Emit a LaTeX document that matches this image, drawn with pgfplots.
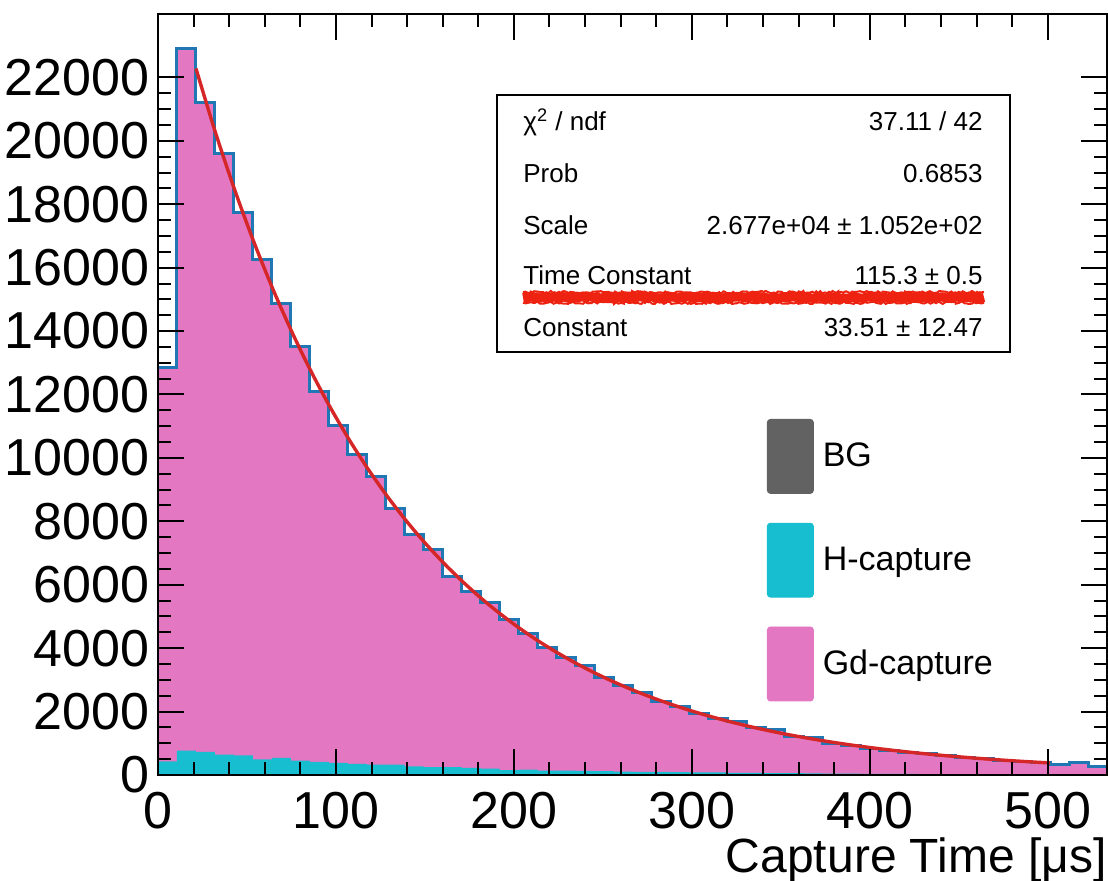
\documentclass[border=0pt]{standalone}
\usepackage{fontspec}
\setmainfont{Liberation Sans}
\usepackage{pgfplots}
\pgfplotsset{compat=1.18}
\usepackage{pgfplotstable}
\usetikzlibrary{decorations.pathmorphing}
\definecolor{gdpink}{HTML}{E377C2}
\definecolor{hcyan}{HTML}{17BECF}
\definecolor{outblue}{HTML}{1F77B4}
\definecolor{fitred}{HTML}{D62728}
\definecolor{bggray}{HTML}{626262}
\definecolor{markred}{HTML}{EE2211}

\pgfplotstableread{
x y
0 12840
10.667 22900
21.333 21210
32 19600
42.667 17730
53.333 16260
64 14860
74.667 13520
85.333 12100
96 11030
106.667 10120
117.333 9400
128 8400
138.667 7590
149.333 7110
160 6270
170.667 5800
181.333 5430
192 4900
202.667 4450
213.333 4030
224 3690
234.667 3450
245.333 3060
256 2820
266.667 2600
277.333 2310
288 2150
298.667 1940
309.333 1790
320 1690
330.667 1490
341.333 1430
352 1200
362.667 1170
373.333 1000
384 930
394.667 850
405.333 780
416 720
426.667 670
437.333 600
448 560
458.667 510
469.333 470
480 430
490.667 390
501.333 330
512 380
522.667 260
533.333 260
}\totaltable

\pgfplotstableread{
x y
0 430
10.667 770
21.333 730
32 645
42.667 615
53.333 490
64 540
74.667 455
85.333 415
96 380
106.667 350
117.333 330
128 330
138.667 275
149.333 245
160 245
170.667 225
181.333 200
192 150
202.667 170
213.333 140
224 140
234.667 130
245.333 120
256 110
266.667 100
277.333 95
288 90
298.667 85
309.333 80
320 70
330.667 65
341.333 60
352 55
362.667 50
373.333 45
384 40
394.667 38
405.333 35
416 32
426.667 30
437.333 28
448 25
458.667 22
469.333 20
480 18
490.667 16
501.333 15
512 14
522.667 12
533.333 12
}\hcaptable

\pgfplotstableread{
x y
21.333 22281
32 20315
42.667 18523
53.333 16889
64 15400
74.667 14042
85.333 12804
96 11675
106.667 10646
117.333 9709
128 8854
138.667 8074
149.333 7364
160 6716
170.667 6126
181.333 5587
192 5097
202.667 4649
213.333 4241
224 3870
234.667 3531
245.333 3222
256 2940
266.667 2683
277.333 2449
288 2236
298.667 2041
309.333 1864
320 1702
330.667 1554
341.333 1420
352 1297
362.667 1186
373.333 1084
384 991
394.667 906
405.333 829
416 759
426.667 695
437.333 636
448 583
458.667 535
469.333 490
480 450
490.667 413
501.333 380
}\fittable

\begin{document}
\begin{tikzpicture}
\useasboundingbox (-79pt,-53pt) rectangle (475pt,387.5pt);
\begin{axis}[
  at={(0,0)}, anchor=south west,
  scale only axis, width=474.5pt, height=380.5pt,
  xmin=0, xmax=533.333, ymin=0, ymax=24000,
  xtick={0,100,...,500}, ytick={0,2000,...,22000},
  scaled y ticks=false, scaled x ticks=false,
  minor x tick num=4, minor y tick num=3,
  major tick length=13pt, minor tick length=6.5pt,
  tick style={black, line width=1pt},
  axis line style={line width=1.3pt},
  axis on top,
  tick label style={font=\fontsize{26}{30}\selectfont},
  /pgf/number format/assume math mode=true,
  /pgf/number format/1000 sep={},
  xticklabel style={inner sep=0pt, yshift=-8.5pt},
  yticklabel style={inner sep=0pt, xshift=-4pt},
  xlabel={Capture Time [μs]},
  xlabel style={at={(rel axis cs:1,0)}, anchor=base east, inner sep=0pt, yshift=-49pt, font=\fontsize{24}{28}\selectfont},
  legend style={at={(0.6417,0.4678)}, anchor=north west, draw=none, fill=none,
    inner sep=0pt, outer sep=0pt, row sep=14.5pt,
    font=\fontsize{17}{20}\selectfont,
    nodes={inner sep=0pt},
    /tikz/every odd column/.style={column sep=4.5pt}},
  legend cell align=left,
]
\addplot[const plot mark left, fill=gdpink, draw=none, forget plot] table {\totaltable} \closedcycle;
\addplot[const plot mark left, fill=hcyan, draw=none, forget plot] table {\hcaptable} \closedcycle;
\addplot[const plot mark left, draw=outblue, line width=1.5pt, forget plot] table {\totaltable};
\addplot[smooth, draw=fitred, line width=1.7pt, forget plot] table {\fittable};

\addlegendimage{legend image code/.code={\fill[bggray,rounded corners=1.5pt] (0pt,-18.5pt) rectangle (23pt,18.5pt);}}
\addlegendentry{BG}
\addlegendimage{legend image code/.code={\fill[hcyan,rounded corners=1.5pt] (0pt,-18.5pt) rectangle (23pt,18.5pt);}}
\addlegendentry{H-capture}
\addlegendimage{legend image code/.code={\fill[gdpink,rounded corners=1.5pt] (0pt,-18.5pt) rectangle (23pt,18.5pt);}}
\addlegendentry{Gd-capture}
\end{axis}
% statistics box
\fill[white] (169.5pt,211.5pt) rectangle (426pt,340pt);
\draw[line width=1pt] (169.5pt,211.5pt) rectangle (426pt,340pt);
\begin{scope}[every node/.style={inner sep=0pt, font=\fontsize{13}{15}\selectfont}]
\node[anchor=base west] at (182.5pt,322.2pt) {χ\textsuperscript{2} / ndf};
\node[anchor=base east] at (412.5pt,322.2pt) {37.11 / 42};
\node[anchor=base west] at (182.5pt,296.3pt) {Prob};
\node[anchor=base east] at (412.5pt,296.3pt) {0.6853};
\node[anchor=base west] at (182.5pt,270.3pt) {Scale};
\node[anchor=base east] at (412.5pt,270.3pt) {2.677e+04 ± 1.052e+02};
\node[anchor=base west] at (182.5pt,245.3pt) {Time Constant};
\node[anchor=base east] at (412.5pt,245.3pt) {115.3 ± 0.5};
\node[anchor=base west] at (182.5pt,219.2pt) {Constant};
\node[anchor=base east] at (412.5pt,219.2pt) {33.51 ± 12.47};
\end{scope}
\draw[markred, line width=4.6pt, decorate, decoration={random steps, segment length=1.2pt, amplitude=0.5pt}] (182.5pt,238.75pt) -- (413pt,238.75pt);
\draw[markred, line width=1pt, decorate, decoration={random steps, segment length=1pt, amplitude=0.6pt}] (182.5pt,241.4pt) -- (413pt,241.4pt);
\draw[markred, line width=1pt, decorate, decoration={random steps, segment length=1pt, amplitude=0.6pt}] (182.5pt,236.1pt) -- (413pt,236.1pt);
\end{tikzpicture}
\end{document}
